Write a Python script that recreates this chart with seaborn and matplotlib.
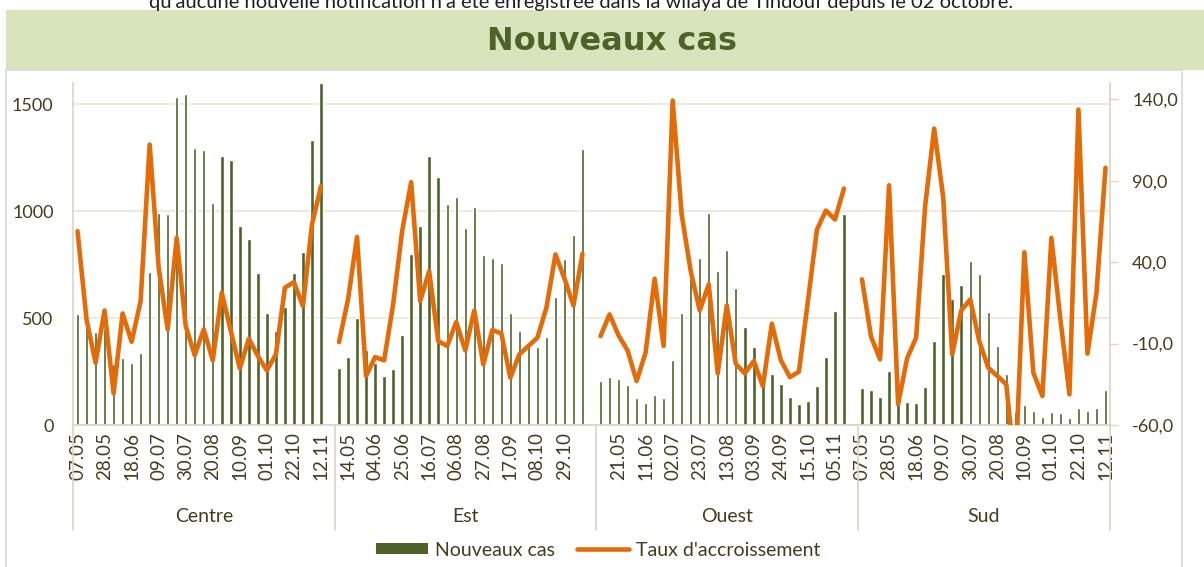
import pandas as pd
import seaborn as sns
import matplotlib.pyplot as plt
import matplotlib.transforms as mtransforms
from matplotlib.patches import Patch, Rectangle
from matplotlib.lines import Line2D

# ------------------------------
# 1. Données
# ------------------------------
regions = ["Centre", "Est", "Ouest", "Sud"]
dates = ["07.05", "14.05", "21.05", "28.05", "04.06", "11.06", "18.06", "25.06",
         "02.07", "09.07", "16.07", "23.07", "30.07", "06.08", "13.08", "20.08",
         "27.08", "03.09", "10.09", "17.09", "24.09", "01.10", "08.10", "15.10",
         "22.10", "29.10", "05.11", "12.11"]

centre_cas = [520, 480, 433, 450, 286, 312, 289, 336, 714, 990, 987, 1533, 1549, 1298,
              1287, 1037, 1259, 1240, 932, 869, 709, 525, 440, 553, 713, 810, 1331, 1600]
centre_taux = [59.0, 4.8, -21.8, 10.3, -40.6, 8.5, -8.9, 16.1, 112.2, 36.5, -1.3, 54.9, 0.7, -17.1,
               -1.3, -20.3, 21.2, -2.3, -25.2, -7.0, -17.7, -26.5, -16.6, 24.3, 27.7, 13.0, 63.1, 86.6]

est_cas = [269, 319, 500, 351, 288, 229, 262, 421, 802, 932, 1259, 1159, 1035, 1066,
           922, 1018, 794, 781, 758, 526, 440, 387, 363, 410, 598, 775, 888, 1290]
est_taux = [-9.1, 17.1, 55.5, -29.9, -18.3, -20.3, 14.0, 59.0, 89.1, 16.1, 34.5, -8.5, -11.5, 3.2,
            -14.2, 10.3, -22.8, -1.7, -3.8, -31.0, -16.6, -11.5, -6.4, 12.0, 44.7, 30.0, 13.4, 45.1]

ouest_cas = [207, 225, 216, 186, 125, 105, 139, 124, 305, 523, 720, 781, 990, 722,
             820, 642, 460, 363, 190, 238, 191, 132, 97, 113, 182, 316, 531, 987]
ouest_taux = [-5.4, 7.9, -5.0, -14.2, -33.0, -15.6, 29.8, -11.5, 139.2, 69.2, 34.5, 10.3, 26.3, -28.3,
              13.4, -22.4, -28.3, -20.7, -36.1, 2.2, -20.3, -30.6, -27.3, 16.1, 60.0, 71.7, 66.2, 85.2]

sud_cas = [171, 163, 132, 252, 170, 109, 102, 177, 391, 705, 590, 653, 767, 705,
           528, 368, 239, 60, 92, 65, 36, 60, 58, 31, 78, 66, 78, 164]
sud_taux = [29.4, -5.8, -19.7, 87.2, -47.3, -19.1, -6.4, 74.4, 122.0, 79.9, -16.6, 10.3, 17.1, -8.5,
            -24.8, -29.9, -35.1, -90.0, 46.1, -27.9, -42.2, 54.9, 4.8, -41.2, 133.7, -16.2, 21.2, 97.9]

cas_par_region = {"Centre": centre_cas, "Est": est_cas, "Ouest": ouest_cas, "Sud": sud_cas}
taux_par_region = {"Centre": centre_taux, "Est": est_taux, "Ouest": ouest_taux, "Sud": sud_taux}

# ------------------------------
# 2. Tableau (une case vide entre les régions, comme dans Excel)
# ------------------------------
rows = []
order = []
pos = 0
for i, region in enumerate(regions):
    for d, c, t in zip(dates, cas_par_region[region], taux_par_region[region]):
        key = f"{region} {d}"
        order.append(key)
        rows.append({"key": key, "pos": pos, "region": region, "date": d, "cas": c, "taux": t})
        pos += 1
    if i < len(regions) - 1:
        order.append(f"vide {i}")
        pos += 1
df = pd.DataFrame(rows)

# ------------------------------
# 3. Style
# ------------------------------
GREEN = "#4f6228"
ORANGE = "#e36c09"
TEXT = "#3f3e1e"
AXIS = "#d9d6c6"
GRID = "#e9e6dc"

sns.set_theme(style="white")
plt.rcParams['font.family'] = ['Lato', 'DejaVu Sans']
plt.rcParams['text.color'] = TEXT

W, H = 1204, 567
fig = plt.figure(figsize=(W / 100, H / 100), dpi=100)

# bandeau du titre + cadre du graphique
fig.add_artist(Rectangle((6 / W, 1 - 70 / H), 1 - 6 / W, 60 / H, transform=fig.transFigure,
                         facecolor="#d8e4bc", edgecolor="none", zorder=-2))
fig.add_artist(Rectangle((6 / W, -0.02), (1182 - 6) / W, 1 - 70 / H + 0.02, transform=fig.transFigure,
                         facecolor="white", edgecolor="#d9d9d9", linewidth=1.2, zorder=-1))
fig.text(612 / W, 1 - 41 / H, "Nouveaux cas", fontsize=23, fontweight="bold",
         family="DejaVu Sans", color=GREEN, ha="center", va="center")
fig.text(581 / W, 1 - 8 / H,
         "qu'aucune nouvelle notification n'a été enregistrée dans la wilaya de Tindouf depuis le 02 octobre.",
         fontsize=14.5, color="#1f1f1f", ha="center", va="baseline")

ax = fig.add_axes([73 / W, 1 - 425 / H, (1110 - 73) / W, (425 - 83) / H])

# ------------------------------
# 4. Barres (axe gauche)
# ------------------------------
sns.barplot(data=df, x="key", y="cas", order=order, color=GREEN, saturation=1,
            width=0.38, errorbar=None, ax=ax)

# ------------------------------
# 5. Taux d'accroissement (axe droit)
# ------------------------------
ax2 = ax.twinx()
for region in regions:
    g = df[df["region"] == region]
    sns.lineplot(data=g, x="pos", y="taux", ax=ax2, color=ORANGE, linewidth=3.3,
                 legend=False, solid_joinstyle="round", solid_capstyle="round")

ax.set_xlim(-0.5, len(order) - 0.5)
ax.set_ylim(0, 1600)
ax2.set_ylim(-60, 150)
for a in (ax, ax2):
    a.set_xlabel("")
    a.set_ylabel("")

# ticks x : une date toutes les 3 cases
date_at = dict(zip(df["pos"], df["date"]))
tick_pos = list(range(0, len(order), 3))
ax.set_xticks(tick_pos)
ax.set_xticklabels([date_at.get(p, "") for p in tick_pos], rotation=90, fontsize=13.5, color=TEXT)
ax.tick_params(axis="x", length=0, pad=5)

ax.set_yticks([0, 500, 1000, 1500])
ax.set_yticklabels(["0", "500", "1000", "1500"], fontsize=13, color=TEXT)
ax.tick_params(axis="y", length=0, pad=14)
ax.grid(axis="y", color=GRID, linewidth=1.2)
ax.grid(axis="x", visible=False)
ax.set_axisbelow(True)

taux_ticks = [-60, -10, 40, 90, 140]
ax2.set_yticks(taux_ticks)
ax2.set_yticklabels([f"{v:.1f}".replace(".", ",") for v in taux_ticks], fontsize=13, color=TEXT)
ax2.tick_params(axis="y", length=6, width=1, color=AXIS, pad=10)
ax2.grid(False)

for s in ["top", "right"]:
    ax.spines[s].set_visible(False)
for s in ["top", "left", "bottom"]:
    ax2.spines[s].set_visible(False)
for a, s in [(ax, "left"), (ax, "bottom"), (ax2, "right")]:
    a.spines[s].set_color(AXIS)
    a.spines[s].set_linewidth(1.2)

# ------------------------------
# 6. Libellés des régions et séparateurs
# ------------------------------
trans = mtransforms.blended_transform_factory(ax.transData, ax.transAxes)
bounds = [-0.5]
for i in range(len(regions)):
    start = bounds[-1]
    end = start + 29 if i < len(regions) - 1 else len(order) - 0.5
    bounds.append(end)
    ax.text((start + end) / 2, -0.269, regions[i], transform=trans, ha="center", va="center",
            fontsize=14, color=TEXT)
for b in bounds:
    ax.plot([b, b], [0, -0.307], transform=trans, color=AXIS, linewidth=1.2, clip_on=False)

# ------------------------------
# 7. Légende
# ------------------------------
handles = [Patch(facecolor=GREEN, edgecolor="none"),
           Line2D([0], [0], color=ORANGE, linewidth=3.3)]
leg = fig.legend(handles, ["Nouveaux cas", "Taux d'accroissement"], loc="center",
                 bbox_to_anchor=(598 / W, 1 - 550 / H), ncol=2, frameon=False, fontsize=14,
                 handlelength=2.7, handleheight=0.55, handletextpad=0.35, columnspacing=1.1)
for t in leg.get_texts():
    t.set_color(TEXT)

fig.savefig("out.png", dpi=100)
